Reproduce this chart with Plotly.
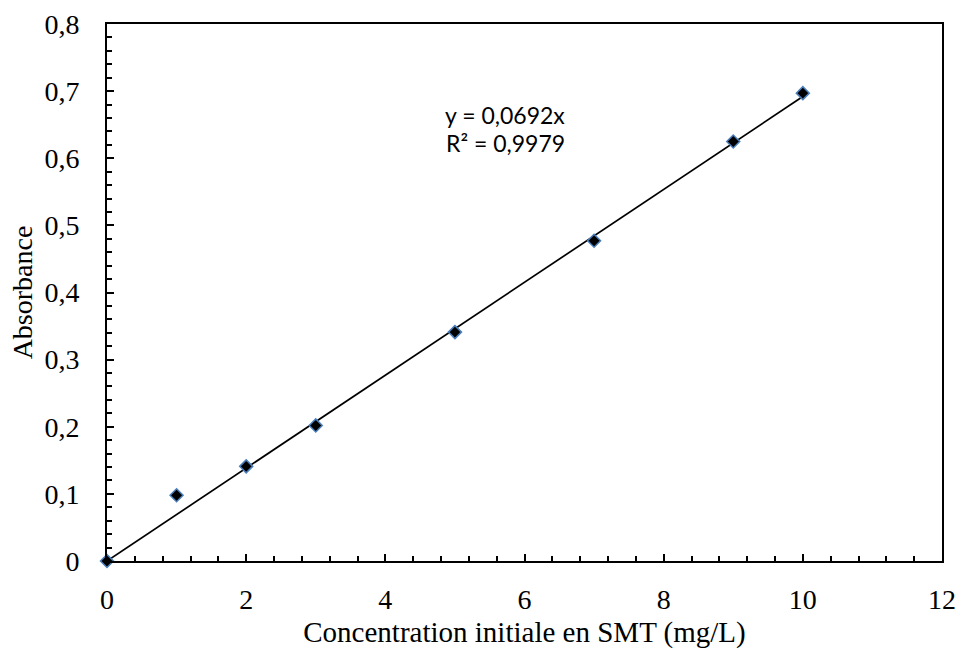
import plotly.graph_objects as go

conc = [0, 1, 2, 3, 5, 7, 9, 10]
absorbance = [0.0, 0.098, 0.141, 0.202, 0.341, 0.477, 0.625, 0.697]
slope = 0.0692
r2 = 0.9979
x_ticks = [0, 2, 4, 6, 8, 10, 12]
y_ticks = [0, 0.1, 0.2, 0.3, 0.4, 0.5, 0.6, 0.7, 0.8]
y_labels = ["0", "0,1", "0,2", "0,3", "0,4", "0,5", "0,6", "0,7", "0,8"]

fit_x = [min(conc), max(conc)]
fit_y = [slope * v for v in fit_x]

fig = go.Figure()
fig.add_trace(go.Scatter(x=fit_x, y=fit_y, mode="lines", cliponaxis=False,
                         line=dict(color="black", width=1.7), showlegend=False, hoverinfo="skip"))
fig.add_trace(go.Scatter(x=conc, y=absorbance, mode="markers", cliponaxis=False,
                         marker=dict(symbol="diamond", size=10, color="black",
                                     line=dict(color="#4a7ebb", width=1.5)),
                         showlegend=False))

ann_font = dict(family="Lato, Open Sans, sans-serif", size=23, color="black")
fig.add_annotation(x=5.72, y=0.664, text="y = 0,0692x", showarrow=False, font=ann_font)
fig.add_annotation(x=5.72, y=0.623, text="R² = " + f"{r2:.4f}".replace(".", ","), showarrow=False, font=ann_font)

serif = "Liberation Serif, Times New Roman, serif"
fig.update_layout(
    width=956, height=651,
    margin=dict(l=107, r=14, t=24, b=90),
    plot_bgcolor="white", paper_bgcolor="white",
    font=dict(family=serif, color="black"),
    xaxis=dict(range=[0, 12], tickvals=x_ticks, ticktext=[str(v) for v in x_ticks],
               automargin=False,
               showgrid=False, zeroline=False, showline=True, linecolor="black", linewidth=2,
               mirror=True, ticks="inside", ticklen=7, tickwidth=2, tickcolor="black",
               minor=dict(ticks="inside", dtick=0.4, tick0=0, ticklen=5, tickwidth=1.5, tickcolor="black"),
               tickfont=dict(size=28, family=serif), ticklabelstandoff=12,
               title=dict(text="Concentration initiale en SMT (mg/L)", font=dict(size=29, family=serif), standoff=8)),
    yaxis=dict(range=[0, 0.8], tickvals=y_ticks, ticktext=y_labels,
               automargin=False,
               showgrid=False, zeroline=False, showline=True, linecolor="black", linewidth=2,
               mirror=True, ticks="inside", ticklen=7, tickwidth=2, tickcolor="black",
               minor=dict(ticks="inside", dtick=0.02, tick0=0, ticklen=5, tickwidth=1.5, tickcolor="black"),
               tickfont=dict(size=28, family=serif), ticklabelstandoff=20,
               title=dict(text="Absorbance", font=dict(size=28, family=serif), standoff=4)),
)

fig.write_html("out.html", config={"displayModeBar": False},
               post_script="document.body.style.margin='0';document.body.style.overflow='hidden';")
